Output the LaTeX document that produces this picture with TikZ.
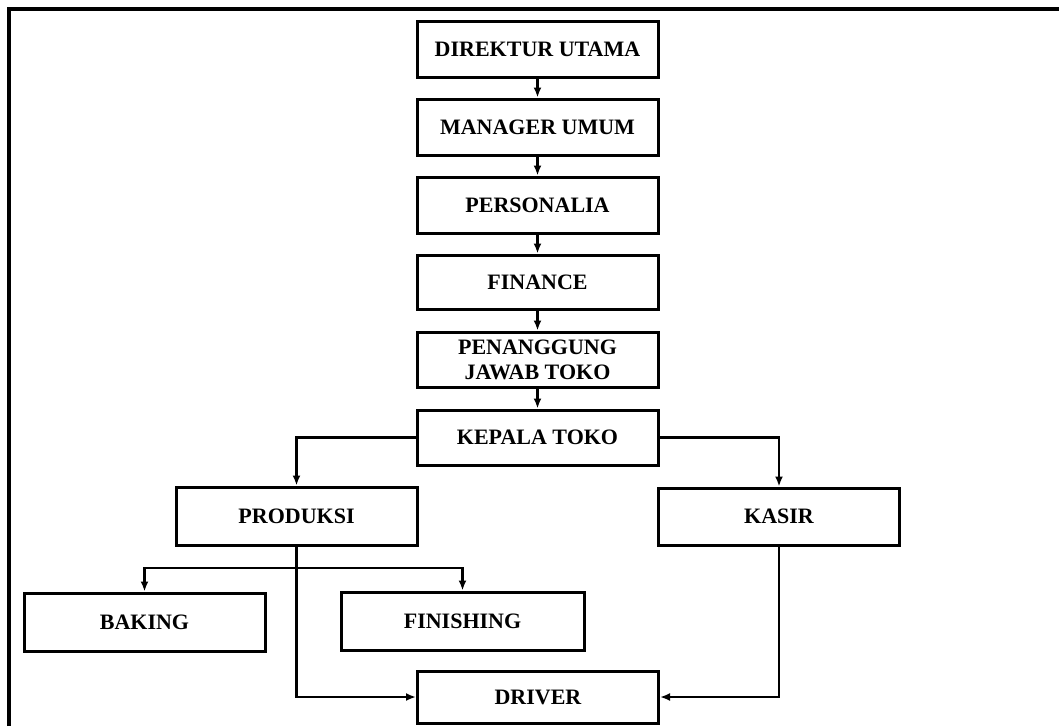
\documentclass[tikz,border=0pt]{standalone}
\usepackage{fontspec}
\setmainfont{Liberation Serif}
\usetikzlibrary{arrows.meta}
\begin{document}
\begin{tikzpicture}[x=1pt,y=-1pt,
  box/.style={draw,line width=3pt,rectangle,minimum width=241pt,minimum height=56pt,
    inner sep=0pt,align=center,font=\fontsize{22}{25}\selectfont\bfseries},
  conn/.style={line width=2.6pt},
  arr/.style={conn,-{Latex[length=10pt,width=8pt]}}]
\useasboundingbox (0,0) rectangle (1059,726);
\draw[line width=3.5pt] (9,726) -- (9,9) -- (1059,9);
\node[box] (dir) at (537.5,49) {DIREKTUR UTAMA};
\node[box] (man) at (537.5,127) {MANAGER UMUM};
\node[box] (per) at (537.5,205) {PERSONALIA};
\node[box,minimum height=54pt] (fin) at (537.5,282) {FINANCE};
\node[box,minimum height=55pt] (pj) at (537.5,359.5) {PENANGGUNG\\JAWAB TOKO};
\node[box,minimum height=55pt] (kep) at (537.5,437.5) {KEPALA TOKO};
\node[box,minimum height=58pt] (prod) at (296.5,516) {PRODUKSI};
\node[box,minimum height=57pt] (kas) at (779,516.5) {KASIR};
\node[box,minimum height=58pt] (bak) at (144.5,622) {BAKING};
\node[box,minimum width=243pt,minimum height=58pt] (fis) at (462.5,621) {FINISHING};
\node[box,minimum height=52pt] (drv) at (538,697) {DRIVER};
\coordinate (br) at (296.5,568);
\draw[arr] (dir) -- (man);
\draw[arr] (man) -- (per);
\draw[arr] (per) -- (fin);
\draw[arr] (fin) -- (pj);
\draw[arr] (pj) -- (kep);
\draw[arr] (kep.west) -| (prod.north);
\draw[arr] (kep.east) -| (kas.north);
\draw[conn] (prod.south) -- (br);
\draw[arr] (br) -| (bak.north);
\draw[arr] (br) -| (fis.north);
\draw[arr] (prod.south) |- (drv.west);
\draw[arr] (kas.south) |- (drv.east);
\end{tikzpicture}
\end{document}
